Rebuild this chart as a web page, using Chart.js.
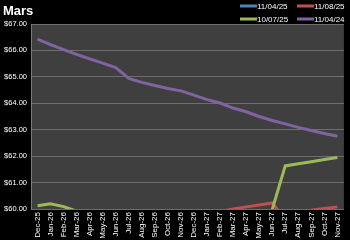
<!DOCTYPE html>
<html>
<head>
<meta charset="utf-8">
<script src="https://cdn.jsdelivr.net/npm/chart.js@4"></script>
<style>
  html, body { margin: 0; padding: 0; background: #000; }
  #wrap { width: 350px; height: 240px; }
</style>
</head>
<body>
<div id="wrap"><canvas id="marsChart" width="350" height="240"></canvas></div>
<script>
// months on the x axis
const months = ['Dec-25', 'Jan-26', 'Feb-26', 'Mar-26', 'Apr-26', 'May-26', 'Jun-26', 'Jul-26',
    'Aug-26', 'Sep-26', 'Oct-26', 'Nov-26', 'Dec-26', 'Jan-27', 'Feb-27', 'Mar-27',
    'Apr-27', 'May-27', 'Jun-27', 'Jul-27', 'Aug-27', 'Sep-27', 'Oct-27', 'Nov-27'];

// curve values, $ (anything under 60 sits below the plot and is not seen)
const curve110425 = [59.40, 59.42, 59.38, 59.35, 59.30, 59.28, 59.25, 59.22, 59.20, 59.18, 59.15, 59.12,
    59.10, 59.08, 59.05, 59.03, 59.00, 58.98, 58.95, 58.93, 58.90, 58.88, 58.85, 58.83];
const curve110825 = [59.60, 59.62, 59.58, 59.55, 59.55, 59.52, 59.50, 59.50, 59.48, 59.47, 59.45, 59.45,
    59.60, 59.75, 59.90, 60.00, 60.08, 60.15, 60.23, 59.60, 59.70, 59.95, 60.02, 60.08];
const curve100725 = [60.12, 60.20, 60.09, 59.92, 59.80, 59.75, 59.70, 59.65, 59.62, 59.60, 59.58, 59.56,
    59.55, 59.54, 59.53, 59.52, 59.51, 59.50, 59.98, 61.63, 61.71, 61.79, 61.87, 61.95];
const curve110424 = [66.43, 66.22, 66.03, 65.85, 65.68, 65.52, 65.35, 64.94, 64.79, 64.67, 64.56, 64.47,
    64.31, 64.14, 64.01, 63.82, 63.68, 63.50, 63.35, 63.22, 63.09, 62.97, 62.86, 62.75];

const yMin = 60;
const yMax = 67;

const font = "'Liberation Sans', Arial, sans-serif";

// grey plot area behind the lines
const plotBg = {
    id: 'plotBg',
    beforeDraw(chart) {
        const {ctx, chartArea: a} = chart;
        ctx.save();
        ctx.fillStyle = '#3f3f3f';
        ctx.fillRect(a.left, a.top, a.right - a.left, a.bottom - a.top);
        ctx.restore();
    }
};

// title and the 2x2 legend in the top band
const header = {
    id: 'header',
    afterDraw(chart) {
        const ctx = chart.ctx;
        ctx.save();
        ctx.fillStyle = '#ffffff';
        ctx.font = 'bold 13px ' + font;
        ctx.textBaseline = 'alphabetic';
        ctx.textAlign = 'left';
        ctx.fillText('Mars', 3, 15);

        const slots = [[240, 6], [297, 6], [240, 19], [297, 19]];
        ctx.font = '8px ' + font;
        ctx.textBaseline = 'middle';
        chart.data.datasets.forEach((ds, i) => {
            const [x, y] = slots[i];
            ctx.strokeStyle = ds.borderColor;
            ctx.lineWidth = 3;
            ctx.beginPath();
            ctx.moveTo(x, y);
            ctx.lineTo(x + 17, y);
            ctx.stroke();
            ctx.fillStyle = '#ffffff';
            ctx.fillText(ds.label, x + 17, y + 0.5);
        });
        ctx.restore();
    }
};

function line(label, data, color, order) {
    return {
        label: label,
        data: data,
        borderColor: color,
        backgroundColor: color,
        borderWidth: 3,
        pointRadius: 0,
        tension: 0,
        clip: 0,
        order: order
    };
}

const ctx = document.getElementById('marsChart').getContext('2d');
new Chart(ctx, {
    type: 'line',
    data: {
        labels: months,
        datasets: [
            line('11/04/25', curve110425, '#4f81bd', 4),
            line('11/08/25', curve110825, '#c0504d', 3),
            line('10/07/25', curve100725, '#9bbb59', 2),
            line('11/04/24', curve110424, '#8064a2', 1)
        ]
    },
    options: {
        responsive: false,
        animation: false,
        devicePixelRatio: 1,
        layout: { padding: { top: 24, right: 0, left: 0, bottom: 0 } },
        plugins: {
            legend: { display: false },
            title: { display: false },
            tooltip: { enabled: false }
        },
        scales: {
            x: {
                type: 'category',
                offset: true,
                grid: { display: false, drawTicks: false },
                border: { display: false },
                ticks: {
                    color: '#ffffff',
                    font: { family: font, size: 8 },
                    minRotation: 90,
                    maxRotation: 90,
                    autoSkip: false,
                    padding: 3
                },
                afterFit(scale) { scale.height = 31; }
            },
            y: {
                min: yMin,
                max: yMax,
                grid: { color: '#6e6e6e', lineWidth: 1, drawTicks: false },
                border: { display: true, color: '#7a7a7a' },
                ticks: {
                    stepSize: 1,
                    color: '#ffffff',
                    font: { family: font, size: 7.5 },
                    padding: 4,
                    callback: (v) => '$' + v.toFixed(2)
                },
                afterFit(scale) { scale.width = 31; }
            }
        }
    },
    plugins: [plotBg, header]
});
</script>
</body>
</html>
